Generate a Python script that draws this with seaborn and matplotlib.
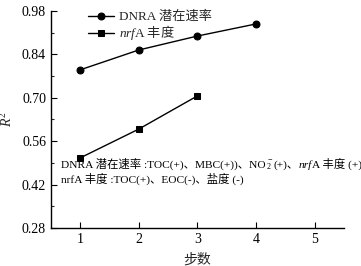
import matplotlib
matplotlib.use('Agg')
import matplotlib.pyplot as plt
from matplotlib.offsetbox import TextArea, HPacker, VPacker, AnchoredOffsetbox
import numpy as np
import pandas as pd
import seaborn as sns

# data
steps_dnra = [1, 2, 3, 4]
r2_dnra = [0.790, 0.854, 0.899, 0.938]
steps_nrfa = [1, 2, 3]
r2_nrfa = [0.506, 0.599, 0.706]
series_names = ['DNRA 潜在速率', r'$\it{nrf}\mathrm{A}$ 丰度']
yticks = [0.28, 0.42, 0.56, 0.70, 0.84, 0.98]
xticks = [1, 2, 3, 4, 5]

df = pd.concat([
    pd.DataFrame({'step': steps_dnra, 'r2': r2_dnra, 'series': series_names[0]}),
    pd.DataFrame({'step': steps_nrfa, 'r2': r2_nrfa, 'series': series_names[1]}),
])

sns.set_style('ticks')
fam = ['Liberation Serif', 'Noto Sans CJK SC']
plt.rcParams['font.family'] = fam
plt.rcParams['mathtext.fontset'] = 'custom'
plt.rcParams['mathtext.rm'] = 'Liberation Serif'
plt.rcParams['mathtext.it'] = 'Liberation Serif:italic'
plt.rcParams['xtick.direction'] = 'in'
plt.rcParams['ytick.direction'] = 'in'

fig = plt.figure(figsize=(3.61, 2.66), dpi=100)
ax = fig.add_axes([0.141, 0.143, 0.812, 0.816])

sns.lineplot(data=df, x='step', y='r2', hue='series', style='series',
             markers=['o', 's'], dashes=False, palette=['black', 'black'],
             markersize=5, linewidth=1, markeredgecolor='black', ax=ax)

ax.set_xlim(0.5, 5.5)
ax.set_ylim(0.28, 0.98)
ax.set_xticks(xticks)
ax.set_yticks(yticks)
ax.set_yticklabels([f'{v:.2f}' for v in yticks])
ax.set_yticks(np.array(yticks[:-1]) + 0.07, minor=True)
ax.tick_params(labelsize=10, length=4, width=0.8, colors='black')
ax.tick_params(which='minor', length=2.5, width=0.8)
sns.despine(ax=ax)
for s in ['left', 'bottom']:
    ax.spines[s].set_linewidth(1)
    ax.spines[s].set_color('black')

ax.set_xlabel('步数', fontsize=10, labelpad=5)
ax.set_ylabel('$R^2$', fontsize=10, labelpad=5)

leg = ax.legend(title=None, loc='upper left', bbox_to_anchor=(0.085, 1.055), frameon=False,
                fontsize=9.5, handlelength=2.0, handletextpad=0.4, labelspacing=0.0)
leg.get_texts()[1].set_fontfamily('Noto Sans CJK SC')


def piece(s, style='normal'):
    return TextArea(s, textprops=dict(family=fam, fontsize=8.2, style=style, color='black'))


line1 = HPacker(children=[piece('DNRA 潜在速率 :TOC(+)、MBC(+))、NO'), piece('$_2^-$'),
                          piece('(+)、'), piece('nrf', 'italic'), piece('A 丰度 (+)')],
                align='baseline', pad=0, sep=0)
line2 = HPacker(children=[piece('nrfA 丰度 :TOC(+)、EOC(-)、盐度 (-)')],
                align='baseline', pad=0, sep=0)
note = VPacker(children=[line1, line2], align='left', pad=0, sep=0)
ax.add_artist(AnchoredOffsetbox(loc='lower left', child=note, bbox_to_anchor=(0.035, 0.2),
                                bbox_transform=ax.transAxes, frameon=False, pad=0, borderpad=0))

fig.savefig('out.png', dpi=100)
